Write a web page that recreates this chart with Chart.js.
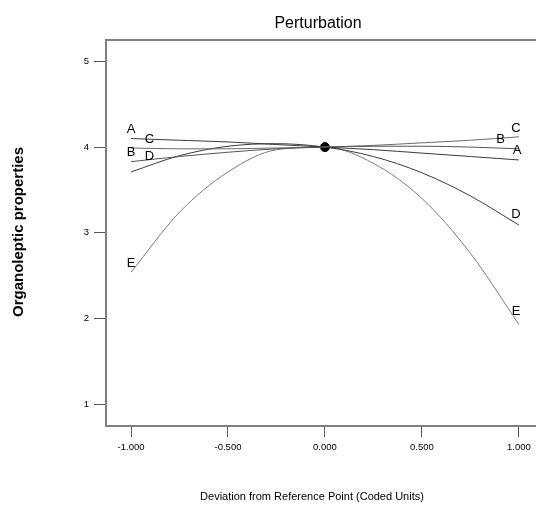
<!DOCTYPE html>
<html>
<head>
<meta charset="utf-8">
<script src="https://cdn.jsdelivr.net/npm/chart.js@4/dist/chart.umd.min.js"></script>
<style>
  html, body { margin: 0; padding: 0; background: #fff; }
  #wrap { width: 536px; height: 507px; position: relative; }
</style>
</head>
<body>
<div id="wrap"><canvas id="grafico" width="536" height="507"></canvas></div>
<script>
// deviation from reference point (coded units)
const devX = [-1, -0.75, -0.5, -0.25, 0, 0.25, 0.5, 0.75, 1];

// organoleptic properties
const serieA = [4.10, 4.08, 4.06, 4.03, 4.00, 3.97, 3.93, 3.89, 3.85];
const serieB = [3.83, 3.89, 3.94, 3.98, 4.00, 4.01, 4.01, 4.00, 3.98];
const serieC = [3.99, 3.98, 3.98, 3.99, 4.00, 4.02, 4.05, 4.08, 4.12];
const serieD = [3.71, 3.90, 4.01, 4.04, 4.00, 3.89, 3.70, 3.43, 3.09];
const serieE = [2.54, 3.24, 3.71, 3.97, 4.00, 3.81, 3.40, 2.76, 1.93];

const factorNames = ['A', 'B', 'C', 'D', 'E'];

// reference point
const refX = [0];
const refY = [4];

const xTicks = [-1, -0.5, 0, 0.5, 1];
const yTicks = [1, 2, 3, 4, 5];

function toPoints(ys) {
    return devX.map(function (x, i) { return { x: x, y: ys[i] }; });
}

// value of a series at x (linear between read points, only used to place letters)
function valueAt(ys, x) {
    for (let i = 0; i < devX.length - 1; i++) {
        if (x >= devX[i] && x <= devX[i + 1]) {
            const t = (x - devX[i]) / (devX[i + 1] - devX[i]);
            return ys[i] + t * (ys[i + 1] - ys[i]);
        }
    }
    return ys[ys.length - 1];
}

const lineColors = ['#3a3a3a', '#555555', '#6a6a6a', '#3a3a3a', '#7a7a7a'];
const allSeries = [serieA, serieB, serieC, serieD, serieE];

// where the letters sit (x in coded units) at each end
const labelLeftX = { A: -1, B: -1, C: -0.905, D: -0.905, E: -1 };
const labelRightX = { A: 0.99, B: 0.905, C: 0.985, D: 0.985, E: 0.985 };

const decoPlugin = {
    id: 'deco',
    afterDraw: function (chart) {
        const c = chart.ctx;
        const area = chart.chartArea;
        const xs = chart.scales.x;
        const ys = chart.scales.y;

        // top frame line
        c.save();
        c.strokeStyle = '#808080';
        c.lineWidth = 2;
        c.beginPath();
        c.moveTo(area.left, area.top);
        c.lineTo(area.right, area.top);
        c.stroke();

        // factor letters
        c.fillStyle = '#000';
        c.font = '13px "Liberation Sans", Arial, sans-serif';
        c.textAlign = 'center';
        c.textBaseline = 'middle';
        factorNames.forEach(function (name, i) {
            const s = allSeries[i];
            const lx = labelLeftX[name];
            const rx = labelRightX[name];
            c.fillText(name, xs.getPixelForValue(lx), ys.getPixelForValue(valueAt(s, lx)) - 9);
            c.fillText(name, xs.getPixelForValue(rx), ys.getPixelForValue(valueAt(s, rx)) - 9);
        });

        // titles
        c.font = '16px "Liberation Sans", Arial, sans-serif';
        c.fillText('Perturbation', 318, 24);

        c.font = '11px "Liberation Sans", Arial, sans-serif';
        c.fillText('Deviation from Reference Point (Coded Units)', 312, 497);

        c.translate(19, 232);
        c.rotate(-Math.PI / 2);
        c.font = 'bold 15px "Liberation Sans", Arial, sans-serif';
        c.fillText('Organoleptic properties', 0, 0);
        c.restore();
    }
};

document.addEventListener('DOMContentLoaded', function () {
    const datasets = factorNames.map(function (name, i) {
        return {
            label: name,
            data: toPoints(allSeries[i]),
            borderColor: lineColors[i],
            backgroundColor: lineColors[i],
            borderWidth: 1,
            pointRadius: 0,
            cubicInterpolationMode: 'monotone',
            fill: false
        };
    });
    datasets.push({
        label: 'ref',
        type: 'scatter',
        data: refX.map(function (x, i) { return { x: x, y: refY[i] }; }),
        backgroundColor: '#000',
        borderColor: '#000',
        pointRadius: 4.5,
        pointHoverRadius: 4.5
    });

    const ctx = document.getElementById('grafico').getContext('2d');
    new Chart(ctx, {
        type: 'line',
        data: { datasets: datasets },
        options: {
            responsive: false,
            animation: false,
            events: [],
            layout: {
                autoPadding: false,
                padding: { top: 40, right: 0, left: 0, bottom: 0 }
            },
            plugins: {
                legend: { display: false },
                tooltip: { enabled: false },
                title: { display: false }
            },
            scales: {
                x: {
                    type: 'linear',
                    min: -1.129,
                    max: 1.088,
                    afterBuildTicks: function (scale) {
                        scale.ticks = xTicks.map(function (v) { return { value: v }; });
                    },
                    afterFit: function (scale) {
                        scale.height = 81;
                        scale.paddingLeft = 0;
                        scale.paddingRight = 0;
                    },
                    ticks: {
                        color: '#000',
                        padding: 5,
                        maxRotation: 0,
                        autoSkip: false,
                        font: { family: '"Liberation Sans", Arial, sans-serif', size: 9.5 },
                        callback: function (v) { return Number(v).toFixed(3); }
                    },
                    grid: {
                        drawOnChartArea: false,
                        drawTicks: true,
                        tickLength: 11,
                        color: '#555',
                        lineWidth: 1
                    },
                    border: { display: true, color: '#808080', width: 2 }
                },
                y: {
                    type: 'linear',
                    min: 0.745,
                    max: 5.25,
                    afterBuildTicks: function (scale) {
                        scale.ticks = yTicks.map(function (v) { return { value: v }; });
                    },
                    afterFit: function (scale) { scale.width = 106; },
                    ticks: {
                        color: '#000',
                        padding: 5,
                        autoSkip: false,
                        font: { family: '"Liberation Sans", Arial, sans-serif', size: 9.5 },
                        callback: function (v) { return String(v); }
                    },
                    grid: {
                        drawOnChartArea: false,
                        drawTicks: true,
                        tickLength: 12,
                        color: '#555',
                        lineWidth: 1
                    },
                    border: { display: true, color: '#808080', width: 2 }
                }
            }
        },
        plugins: [decoPlugin]
    });
});
</script>
</body>
</html>
